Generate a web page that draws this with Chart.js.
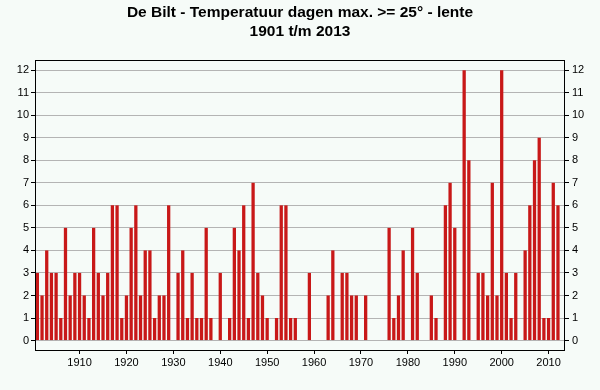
<!DOCTYPE html>
<html>
<head>
<meta charset="utf-8">
<script src="https://cdn.jsdelivr.net/npm/chart.js@4/dist/chart.umd.min.js"></script>
<style>
  html, body { margin: 0; padding: 0; background: #f6fbf8; }
  #wrap { width: 600px; height: 390px; position: relative; }
</style>
</head>
<body>
<div id="wrap"><canvas id="chart"></canvas></div>
<script>
const firstYear = 1901;
const lastYear = 2013;
const years = Array.from({ length: lastYear - firstYear + 1 }, (_, i) => String(firstYear + i));

// days with max >= 25 degrees in spring, per year 1901..2013
const summerDays = [
    3, 2, 4, 3, 3, 1, 5, 2, 3, 3,   // 1901-1910
    2, 1, 5, 3, 2, 3, 6, 6, 1, 2,   // 1911-1920
    5, 6, 2, 4, 4, 1, 2, 2, 6, 0,   // 1921-1930
    3, 4, 1, 3, 1, 1, 5, 1, 0, 3,   // 1931-1940
    0, 1, 5, 4, 6, 1, 7, 3, 2, 1,   // 1941-1950
    0, 1, 6, 6, 1, 1, 0, 0, 3, 0,   // 1951-1960
    0, 0, 2, 4, 0, 3, 3, 2, 2, 0,   // 1961-1970
    2, 0, 0, 0, 0, 5, 1, 2, 4, 0,   // 1971-1980
    5, 3, 0, 0, 2, 1, 0, 6, 7, 5,   // 1981-1990
    0, 12, 8, 0, 3, 3, 2, 7, 2, 12, // 1991-2000
    3, 1, 3, 0, 4, 6, 8, 9, 1, 1,   // 2001-2010
    7, 6, 0                         // 2011-2013
];

const decadeLabels = ['1910', '1920', '1930', '1940', '1950', '1960', '1970', '1980', '1990', '2000', '2010'];
const yTickValues = [0, 1, 2, 3, 4, 5, 6, 7, 8, 9, 10, 11, 12];

const titleLines = ['De Bilt - Temperatuur dagen max. >= 25\u00B0 - lente', '1901 t/m 2013'];

const fontFamily = '"Liberation Sans", Arial, sans-serif';

// black frame round the plot area
const framePlugin = {
    id: 'frame',
    afterDraw(chart) {
        const { ctx, chartArea: a } = chart;
        ctx.save();
        ctx.strokeStyle = '#000';
        ctx.lineWidth = 1;
        ctx.strokeRect(Math.round(a.left) + 0.5, Math.round(a.top) + 0.5,
            Math.round(a.right - a.left) - 1, Math.round(a.bottom - a.top));
        ctx.restore();
    }
};

function intTicks(scale) {
    scale.ticks = yTickValues.map(v => ({ value: v }));
}

const yBase = {
    type: 'linear',
    min: -0.42,
    max: 12.45,
    afterBuildTicks: intTicks,
    border: { display: false },
    ticks: {
        color: '#000',
        font: { family: fontFamily, size: 11 },
        autoSkip: false
    }
};

new Chart(document.getElementById('chart'), {
    type: 'bar',
    data: {
        labels: years,
        datasets: [{
            data: summerDays,
            backgroundColor: '#c81818',
            borderWidth: 0,
            barPercentage: 0.7,
            categoryPercentage: 1.0,
            yAxisID: 'y'
        }]
    },
    options: {
        responsive: true,
        maintainAspectRatio: false,
        animation: false,
        layout: { padding: 0 },
        plugins: {
            legend: { display: false },
            tooltip: { enabled: false },
            title: {
                display: true,
                text: titleLines,
                color: '#000',
                font: { family: fontFamily, size: 15.5, weight: 'bold', lineHeight: 19 / 15.5 },
                padding: { top: 3, bottom: 19 }
            }
        },
        scales: {
            x: {
                type: 'category',
                offset: true,
                afterFit: s => { s.height = 40; },
                border: { display: false },
                grid: {
                    offset: false,
                    drawOnChartArea: false,
                    drawTicks: true,
                    tickLength: 4,
                    tickColor: c => decadeLabels.includes(years[c.index]) ? '#000' : 'rgba(0,0,0,0)'
                },
                ticks: {
                    autoSkip: false,
                    maxRotation: 0,
                    padding: 2,
                    color: '#000',
                    font: { family: fontFamily, size: 11 },
                    callback: (v, i) => decadeLabels.includes(years[i]) ? years[i] : ''
                }
            },
            y: Object.assign({}, yBase, {
                position: 'left',
                afterFit: s => { s.width = 35; },
                grid: { color: '#b4b4b4', tickColor: '#000', tickLength: 4, drawTicks: true },
                ticks: Object.assign({}, yBase.ticks, { padding: 2 })
            }),
            y2: Object.assign({}, yBase, {
                position: 'right',
                afterFit: s => { s.width = 35; },
                grid: { drawOnChartArea: false, tickColor: '#000', tickLength: 4, drawTicks: true },
                ticks: Object.assign({}, yBase.ticks, { padding: 3 })
            })
        }
    },
    plugins: [framePlugin]
});
</script>
</body>
</html>
